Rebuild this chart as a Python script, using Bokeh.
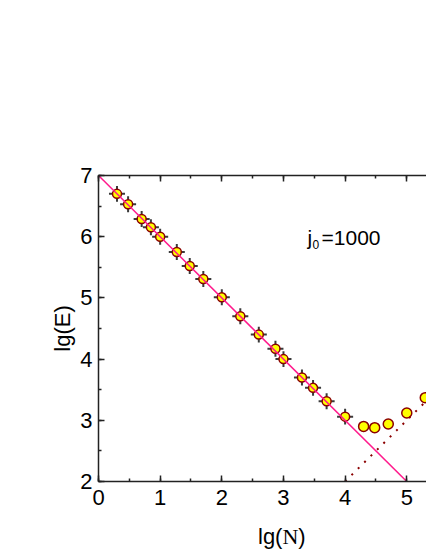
from bokeh.plotting import figure
from bokeh.models import Range1d, LinearAxis, SingleIntervalTicker, Label, ColumnDataSource, Div
from bokeh.layouts import column
from bokeh.embed import file_html
from bokeh.resources import INLINE

# data (log10 values)
lgN_err = [0.30, 0.48, 0.70, 0.85, 1.00, 1.27, 1.48, 1.70, 2.00, 2.30, 2.60,
           2.87, 3.00, 3.30, 3.48, 3.70, 4.00]
lgE_err = [6.70, 6.53, 6.29, 6.155, 6.00, 5.75, 5.52, 5.31, 5.01, 4.70, 4.40,
           4.17, 4.00, 3.70, 3.53, 3.31, 3.06]
x_err = 0.13
y_err = 0.13
lgN_free = [4.30, 4.48, 4.70, 5.00, 5.30]
lgE_free = [2.90, 2.88, 2.94, 3.12, 3.37]
fit_x = [0.0, 5.0]
fit_y = [7.0, 2.0]
dot_x = [4.0, 5.32]
dot_y = [2.0, 3.32]

FONT = "Liberation Sans"

p = figure(width=426, height=516, output_backend="svg", toolbar_location=None,
           x_range=Range1d(0, 5.32), y_range=Range1d(2, 7),
           x_axis_location=None, y_axis_location=None,
           min_border_left=98, min_border_right=0, min_border_top=175,
           min_border_bottom=35)
p.grid.visible = False
p.outline_line_color = None
p.background_fill_color = "white"
p.border_fill_color = "white"


def style_axis(ax, labels=True):
    ax.ticker = SingleIntervalTicker(interval=1, num_minor_ticks=2)
    ax.axis_line_width = 1.5
    ax.axis_line_color = "#222222"
    ax.major_tick_line_color = "#222222"
    ax.minor_tick_line_color = "#222222"
    ax.major_tick_line_width = 1.5
    ax.minor_tick_line_width = 1.5
    ax.major_tick_in = 6
    ax.major_tick_out = 0
    ax.minor_tick_in = 3
    ax.minor_tick_out = 0
    ax.major_label_text_font = FONT
    ax.major_label_text_font_size = "22px"
    ax.major_label_text_color = "black" if labels else None
    ax.axis_label_text_font = FONT
    ax.axis_label_text_font_size = "22px"
    ax.axis_label_text_font_style = "normal"
    ax.axis_label_text_color = "black"


xb = LinearAxis()
style_axis(xb)
xb.major_label_standoff = 8
p.add_layout(xb, "below")

xt = LinearAxis()
style_axis(xt, labels=False)
xt.major_label_text_font_size = "0px"
xt.major_label_standoff = 0
p.add_layout(xt, "above")

yl = LinearAxis(axis_label="lg(E)")
style_axis(yl)
yl.major_label_standoff = 6
yl.axis_label_standoff = 2
p.add_layout(yl, "left")

# error bars
src = ColumnDataSource(dict(
    x=lgN_err, y=lgE_err,
    x0=[v - x_err for v in lgN_err], x1=[v + x_err for v in lgN_err],
    y0=[v - y_err for v in lgE_err], y1=[v + y_err for v in lgE_err],
))
p.segment(x0="x0", y0="y", x1="x1", y1="y", source=src, line_color="#3a3a3a", line_width=2)
p.segment(x0="x", y0="y0", x1="x", y1="y1", source=src, line_color="#3a3a3a", line_width=2)

# markers
p.scatter(x="x", y="y", source=src, size=9, fill_color="#ffff00",
          line_color="#8b0000", line_width=1.5)
p.scatter(lgN_free, lgE_free, size=10, fill_color="#ffff00",
          line_color="#8b0000", line_width=1.5)

# lines
p.line(fit_x, fit_y, line_color="#ff1a8c", line_width=1.5)
p.line(dot_x, dot_y, line_color="#8b0000", line_width=2, line_dash="2 7")

# annotation j0=1000
jx, jy = 3.39, 5.99
p.add_layout(Label(x=jx, y=jy, text="j", text_font=FONT, text_font_size="21px",
                   text_baseline="alphabetic", text_align="left", text_color="black"))
p.add_layout(Label(x=jx, y=jy, x_offset=5, y_offset=-7, text="0", text_font=FONT,
                   text_font_size="12px", text_baseline="alphabetic", text_align="left",
                   text_color="black"))
p.add_layout(Label(x=jx, y=jy, x_offset=14, text="=1000", text_font=FONT,
                   text_font_size="21px", text_baseline="alphabetic", text_align="left",
                   text_color="black"))

# x axis title lg(N) with serif N, as HTML text below the plot
xtitle = Div(
    text='lg(<span style="font-family: \'Liberation Serif\', serif;">N</span>)',
    width=426, height=36, margin=(0, 0, 0, 0),
    styles={"font-family": "'Liberation Sans', sans-serif", "font-size": "22px",
            "color": "black", "padding-left": "258px", "padding-top": "9px",
            "line-height": "24px", "box-sizing": "border-box"},
)

layout = column(p, xtitle, spacing=0)
open("out.html", "w").write(file_html(layout, INLINE))
